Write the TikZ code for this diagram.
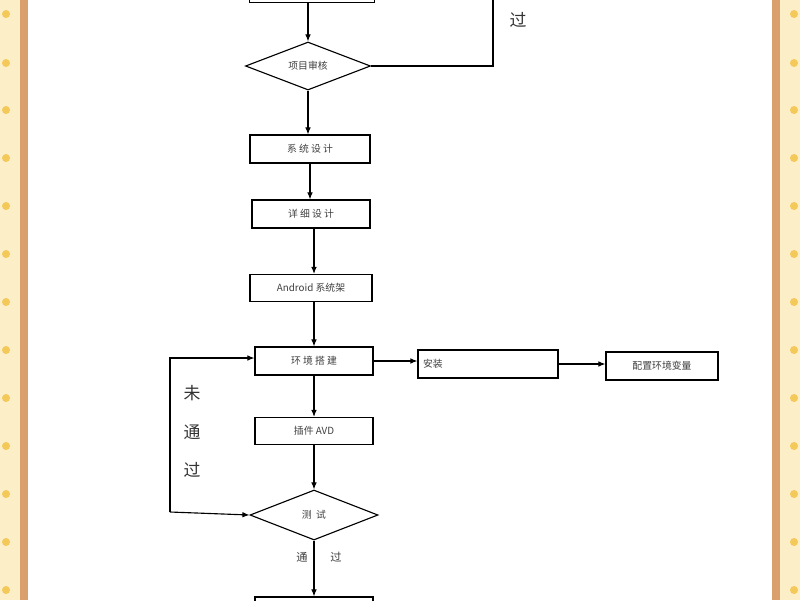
\documentclass[tikz,border=0pt]{standalone}
\usepackage{fontspec}
\setmainfont{Noto Sans CJK SC}
\usetikzlibrary{shapes.geometric,arrows.meta}
\definecolor{cream}{HTML}{FCEFC8}
\definecolor{strip}{HTML}{D9A06E}
\definecolor{dot}{HTML}{F5C85A}
\begin{document}
\begin{tikzpicture}[x=0.025cm,y=-0.025cm,
  box/.style={draw,line width=0.8pt,inner sep=0pt,font=\fontsize{7}{8}\selectfont,text=black!75},
  dia/.style={draw,line width=0.8pt,diamond,aspect=2.6,inner sep=0pt,font=\fontsize{7}{8}\selectfont,text=black!75},
  arr/.style={line width=0.8pt,-{Latex[length=5pt,width=4pt]}},
  lab/.style={font=\fontsize{12}{14}\selectfont,text=black!80}]
\useasboundingbox (0,0) rectangle (800,600);
\clip (0,0) rectangle (800,600);
\fill[cream] (0,0) rectangle (800,600);
\fill[strip] (20,0) rectangle (28,600);
\fill[strip] (772,0) rectangle (780,600);
\fill[white] (28,0) rectangle (772,600);
\foreach \y in {14,63,110,158,206,254,302,350,398,446,494,542,590}{
  \fill[dot] (6,\y) circle (4);
  \fill[dot] (794,\y) circle (4);
}
\node[box,minimum width=125*0.025cm,minimum height=33*0.025cm] (top) at (312,-14) {};
\node[dia,minimum width=125*0.025cm,minimum height=48*0.025cm] (rev) at (308,66) {项目审核};
\node[box,minimum width=120*0.025cm,minimum height=28*0.025cm] (sys) at (310,149) {系 统 设 计};
\node[box,minimum width=118*0.025cm,minimum height=28*0.025cm] (det) at (311,214) {详 细 设 计};
\node[box,minimum width=122*0.025cm,minimum height=27*0.025cm] (and) at (311,288) {Android 系统架};
\node[box,minimum width=118*0.025cm,minimum height=28*0.025cm] (env) at (314,361) {环 境 搭 建};
\node[box,minimum width=140*0.025cm,minimum height=28*0.025cm,text width=130*0.025cm,align=left] (ins) at (488,364) {安装};
\node[box,minimum width=112*0.025cm,minimum height=28*0.025cm] (cfg) at (662,366) {配置环境变量};
\node[box,minimum width=118*0.025cm,minimum height=27*0.025cm] (avd) at (314,431) {插件 AVD};
\node[dia,minimum width=128*0.025cm,minimum height=50*0.025cm] (test) at (314,515) {测 \ 试};
\node[box,minimum width=118*0.025cm,minimum height=30*0.025cm] (bot) at (314,612) {};
\coordinate (r1) at (493,66);
\coordinate (r2) at (493,-5);
\coordinate (l1) at (170,512);
\coordinate (l2) at (170,358);
\draw[arr] (top.south -| rev.north) -- (rev.north);
\draw[line width=0.8pt] (rev.east) -- (r1) -- (r2);
\node[lab] (guo1) at (518,20) {过};
\draw[arr] (rev.south) -- (sys.north -| rev.south);
\draw[arr] (sys.south) -- (det.north -| sys.south);
\draw[arr] (det.south -| 314,0) -- (and.north -| 314,0);
\draw[arr] (and.south -| 314,0) -- (env.north);
\draw[arr] (env.east) -- (ins.west |- env.east);
\draw[arr] (ins.east) -- (cfg.west |- ins.east);
\draw[arr] (env) -- (avd);
\draw[arr] (avd) -- (test);
\draw[arr] (l1) -- (l2) -- (env.west |- l2);
\draw[arr] (l1) -- (test.west);
\node[lab] (w1) at (192,393) {未};
\node[lab] (w2) at (192,432) {通};
\node[lab] (w3) at (192,470) {过};
\node[font=\fontsize{8}{9}\selectfont,text=black!75] (t1) at (302,557) {通};
\node[font=\fontsize{8}{9}\selectfont,text=black!75] (t2) at (336,557) {过};
\draw[arr] (test.south) -- (bot.north);
\end{tikzpicture}
\end{document}
